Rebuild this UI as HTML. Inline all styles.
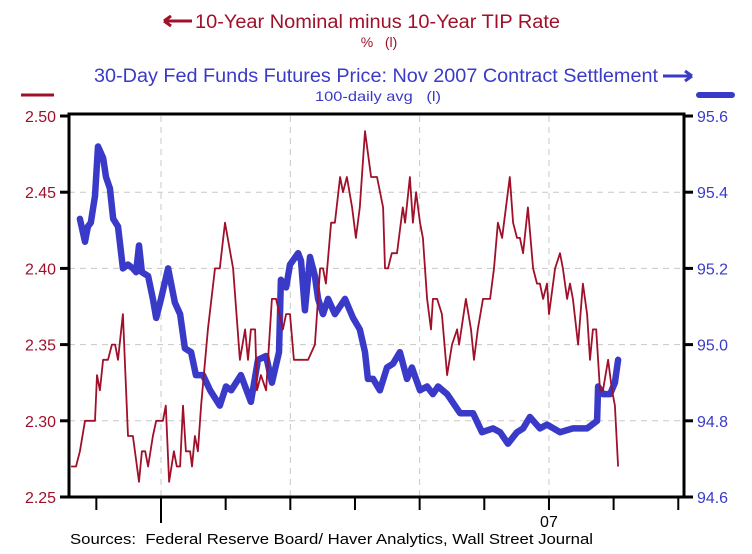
<!DOCTYPE html>
<html><head><meta charset="utf-8"><style>
html,body{margin:0;padding:0;background:#fff;}
svg{display:block;font-family:"Liberation Sans",sans-serif;}
</style></head><body>
<svg id="chart" width="752" height="554" viewBox="0 0 752 554">
  <g>
    <text x="195" y="28" font-size="19" fill="#a0102a" textLength="365" lengthAdjust="spacingAndGlyphs">10-Year Nominal minus 10-Year TIP Rate</text>
    <path d="M164 21 L192 21 M164 21 L171 16 M164 21 L171 26" stroke="#a0102a" stroke-width="3" fill="none"/>
    <text x="379" y="47" font-size="14" fill="#a0102a" text-anchor="middle">%&#160;&#160;&#160;(l)</text>
    <text x="94" y="82" font-size="19" fill="#3a3ac8" textLength="564" lengthAdjust="spacingAndGlyphs">30-Day Fed Funds Futures Price: Nov 2007 Contract Settlement</text>
    <path d="M663 76 L692 76 M692 76 L685 71 M692 76 L685 81" stroke="#3a3ac8" stroke-width="3" fill="none"/>
    <text x="378" y="101" font-size="14" fill="#3a3ac8" text-anchor="middle" textLength="126" lengthAdjust="spacingAndGlyphs">100-daily avg&#160;&#160;&#160;(l)</text>
    <line x1="21" y1="95" x2="54" y2="95" stroke="#a0102a" stroke-width="3"/>
    <line x1="699" y1="95" x2="732" y2="95" stroke="#3a3ac8" stroke-width="6" stroke-linecap="round"/>
  </g>
  <g id="grid"></g>
  <g id="series"></g>
  <rect x="69" y="114" width="615" height="383" fill="none" stroke="#000" stroke-width="3"/>
  <g id="axes"></g>
  <text x="70" y="544" font-size="15" fill="#000" textLength="523" lengthAdjust="spacingAndGlyphs">Sources:&#160;&#160;Federal Reserve Board/ Haver Analytics, Wall Street Journal</text>
</svg>
<script>
// months relative to Jan 2006 (0) and spread values (%)
const redMonths = [-2.78,-2.63,-2.51,-2.35,-2.04,-1.98,-1.89,-1.79,-1.64,-1.52,-1.42,-1.33,-1.18,-1.02,-0.87,-0.68,-0.59,-0.49,-0.40,-0.25,-0.15,0.06,0.15,0.25,0.40,0.49,0.59,0.68,0.77,0.90,0.96,1.05,1.14,1.24,1.45,1.67,1.82,1.98,2.23,2.44,2.60,2.69,2.78,2.91,2.97,3.09,3.25,3.43,3.56,3.77,3.87,3.99,4.11,4.55,4.76,4.92,5.01,5.10,5.26,5.38,5.54,5.63,5.75,5.91,6.03,6.15,6.31,6.50,6.68,6.87,6.93,7.02,7.14,7.30,7.48,7.55,7.70,7.79,7.89,8.01,8.10,8.23,8.35,8.41,8.54,8.69,8.85,9.00,9.16,9.22,9.43,9.59,9.68,9.80,9.96,10.18,10.30,10.42,10.55,10.79,10.89,11.01,11.10,11.20,11.35,11.51,11.63,11.72,11.82,11.94,12.00,12.19,12.34,12.43,12.56,12.65,12.74,12.90,13.05,13.18,13.27,13.36,13.46,13.58,13.67,13.83,13.95,14.04,14.14];
const redValues = [2.27,2.27,2.28,2.30,2.30,2.33,2.32,2.34,2.34,2.35,2.35,2.34,2.37,2.29,2.29,2.26,2.28,2.28,2.27,2.29,2.30,2.30,2.31,2.26,2.28,2.27,2.27,2.31,2.28,2.28,2.27,2.29,2.28,2.31,2.36,2.40,2.40,2.43,2.40,2.34,2.36,2.34,2.36,2.36,2.32,2.33,2.32,2.38,2.38,2.36,2.37,2.37,2.34,2.34,2.35,2.40,2.40,2.39,2.43,2.43,2.46,2.45,2.46,2.44,2.42,2.44,2.49,2.46,2.46,2.44,2.40,2.40,2.41,2.41,2.44,2.43,2.46,2.43,2.45,2.43,2.42,2.38,2.36,2.38,2.38,2.37,2.33,2.35,2.36,2.35,2.38,2.36,2.34,2.36,2.38,2.38,2.40,2.43,2.42,2.46,2.43,2.42,2.42,2.41,2.44,2.40,2.39,2.39,2.38,2.39,2.37,2.40,2.41,2.40,2.38,2.39,2.38,2.35,2.39,2.37,2.34,2.36,2.36,2.32,2.32,2.34,2.32,2.31,2.27];
const blueMonths = [-2.51,-2.35,-2.26,-2.17,-2.04,-1.95,-1.79,-1.70,-1.58,-1.48,-1.33,-1.18,-1.02,-0.87,-0.77,-0.68,-0.59,-0.40,-0.25,-0.15,0,0.22,0.43,0.59,0.74,0.93,1.08,1.30,1.52,1.82,2.01,2.17,2.47,2.78,3.00,3.25,3.43,3.65,3.71,3.87,3.99,4.24,4.33,4.45,4.61,4.76,4.86,5.01,5.17,5.38,5.69,5.94,6.15,6.31,6.40,6.56,6.77,6.99,7.18,7.39,7.61,7.76,8.01,8.23,8.41,8.57,8.85,9.25,9.65,9.93,10.27,10.49,10.73,11.01,11.20,11.41,11.72,11.94,12.34,12.74,13.18,13.49,13.52,13.67,13.89,14.04,14.14];
const blueValues = [95.33,95.27,95.31,95.32,95.39,95.52,95.49,95.44,95.41,95.33,95.31,95.20,95.21,95.20,95.19,95.26,95.19,95.18,95.12,95.07,95.12,95.20,95.11,95.08,94.99,94.98,94.92,94.92,94.88,94.84,94.89,94.88,94.92,94.85,94.96,94.97,94.90,94.98,95.17,95.15,95.21,95.24,95.22,95.09,95.23,95.18,95.12,95.08,95.12,95.08,95.12,95.07,95.04,94.98,94.91,94.91,94.88,94.94,94.95,94.98,94.91,94.94,94.88,94.89,94.87,94.89,94.87,94.82,94.82,94.77,94.78,94.77,94.74,94.77,94.78,94.81,94.78,94.79,94.77,94.78,94.78,94.80,94.89,94.87,94.87,94.90,94.96];
const leftTicks = [2.50,2.45,2.40,2.35,2.30,2.25];
const leftTickLabels = ["2.50","2.45","2.40","2.35","2.30","2.25"];
const rightTicks = [95.6,95.4,95.2,95.0,94.8,94.6];
const rightTickLabels = ["95.6","95.4","95.2","95.0","94.8","94.6"];
const xTickMonths = [-2,0,2,4,6,8,10,12,14,16];
const xMajorMonths = [0,12];
const xGridMonths = [0,4,8,12];
const xTickLabels = [{m:12,t:"07"}];

const NS = "http://www.w3.org/2000/svg";
const X0=69, X1=684, Y0=116, Y1=497;
const xScale = m => 161 + m*32.33;
const yLeft = v => Y1 - (v-2.25)/(2.50-2.25)*(Y1-Y0);
const yRight = v => Y1 - (v-94.6)/(95.6-94.6)*(Y1-Y0);
function mk(tag, attrs, parent){const e=document.createElementNS(NS,tag);for(const k in attrs)e.setAttribute(k,attrs[k]);parent.appendChild(e);return e;}
const grid=document.getElementById('grid'), axes=document.getElementById('axes'), series=document.getElementById('series');

leftTicks.forEach((v,i)=>{
  const y=yLeft(v);
  if(i>0 && i<leftTicks.length-1){
    const g=mk('line',{x1:X0,x2:X1,y1:y,y2:y,stroke:'#c8c8c8','stroke-dasharray':'6,5','stroke-width':1},grid);
    
    
  }
  const t=mk('line',{x1:60,x2:69,y1:y,y2:y,stroke:'#000','stroke-width':3},axes);
  
  
  const l=mk('text',{x:56,y:y+6,'font-size':16,fill:'#a0102a','text-anchor':'end',textLength:31,lengthAdjust:'spacingAndGlyphs'},axes);
  l.textContent=leftTickLabels[i];
  
  
});
rightTicks.forEach((v,i)=>{
  const y=yRight(v);
  const t=mk('line',{x1:684,x2:693,y1:y,y2:y,stroke:'#000','stroke-width':3},axes);
  
  
  const l=mk('text',{x:697,y:y+6,'font-size':16,fill:'#3a3ac8',textLength:31,lengthAdjust:'spacingAndGlyphs'},axes);
  l.textContent=rightTickLabels[i];
  
  
});
xGridMonths.forEach(m=>{
  const x=xScale(m);
  const g=mk('line',{x1:x,x2:x,y1:Y0,y2:Y1,stroke:'#c8c8c8','stroke-dasharray':'6,5','stroke-width':1},grid);
  
  
});
xTickMonths.forEach(m=>{
  const x=Math.min(xScale(m),X1);
  const major=xMajorMonths.includes(m);
  const t=mk('line',{x1:x,x2:x,y1:Y1,y2:major && m===0?523:510,stroke:'#000','stroke-width':2},axes);
  
  
});
xTickLabels.forEach(o=>{
  const l=mk('text',{x:xScale(o.m),y:527,'font-size':16,fill:'#000','text-anchor':'middle'},axes);
  l.textContent=o.t;
  
  
});
const bp=blueMonths.map((m,i)=>xScale(m).toFixed(1)+','+yRight(blueValues[i]).toFixed(1)).join(' ');
const blue=mk('polyline',{points:bp,fill:'none',stroke:'#3a3ac8','stroke-width':6.5,'stroke-linejoin':'round','stroke-linecap':'round'},series);


const rp=redMonths.map((m,i)=>xScale(m).toFixed(1)+','+yLeft(redValues[i]).toFixed(1)).join(' ');
const red=mk('polyline',{points:rp,fill:'none',stroke:'#a0102a','stroke-width':1.8,'stroke-linejoin':'round'},series);


</script>
</body></html>
